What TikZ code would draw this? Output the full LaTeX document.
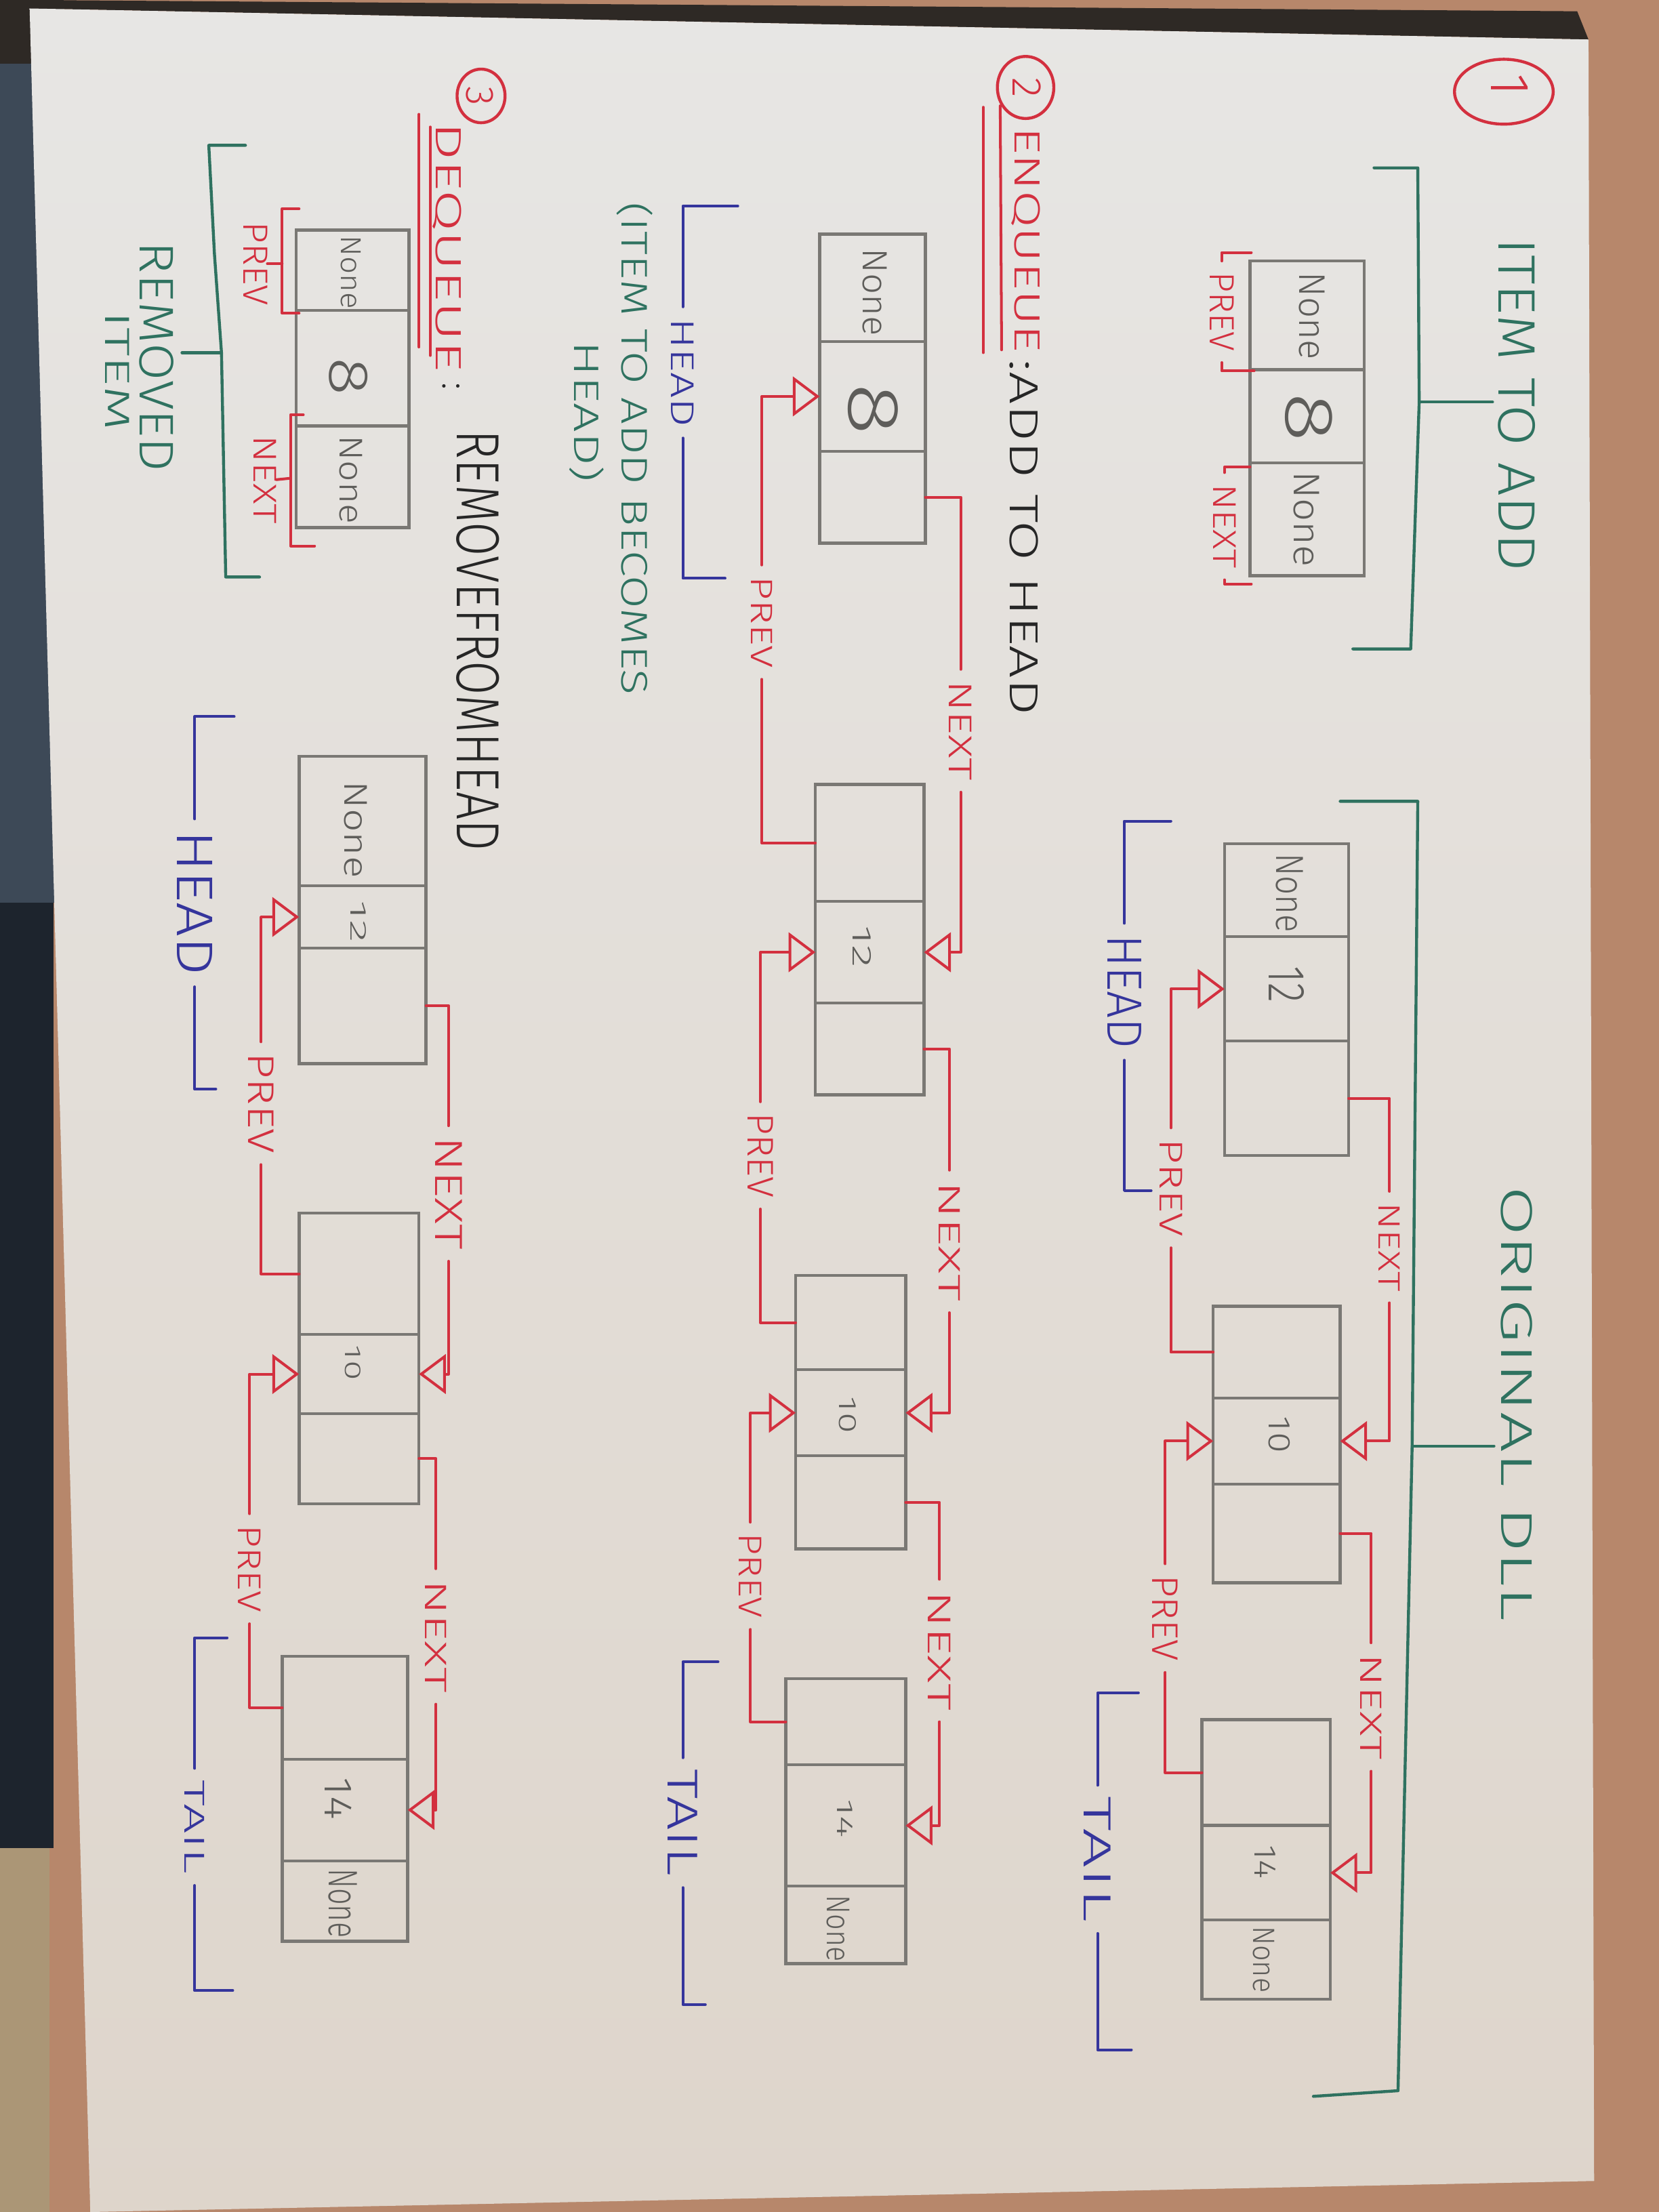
\documentclass[tikz,border=0pt]{standalone}
\usepackage{fontspec}
\IfFontExistsTF{Fira Sans Light}{\setmainfont{Fira Sans Light}}{\setmainfont{Fira Sans}}
\usepackage{graphicx}
\usetikzlibrary{arrows.meta,fit,shapes.geometric}
\newlength{\pxu}\setlength{\pxu}{0.02cm}
% handwritten text squeezed to a given length and cap height
\newcommand{\hw}[3]{\resizebox{#1\pxu}{#2\pxu}{#3}}
% a list node of three cells: prev, data, next
\newcommand{\llnode}[7]{%
  \node[cell, fit={(#2,#4) (#3,#5)}] (#1-p) {};
  \node[cell, fit={(#2,#5) (#3,#6)}] (#1-d) {};
  \node[cell, fit={(#2,#6) (#3,#7)}] (#1-n) {};
}
\definecolor{paperhi}{HTML}{E7E6E4}
\definecolor{paperlo}{HTML}{DED5CB}
\definecolor{desk}{HTML}{B7876B}
\definecolor{jeans}{HTML}{3D4957}
\definecolor{navy}{HTML}{1D242D}
\definecolor{wood}{HTML}{AB9676}
\definecolor{shadow}{HTML}{2E2925}
\definecolor{pencil}{HTML}{7A7874}
\definecolor{penciltx}{HTML}{5E5D5A}
\definecolor{inkred}{HTML}{D3303F}
\definecolor{inkgreen}{HTML}{2F7260}
\definecolor{inkblue}{HTML}{35359C}
\definecolor{inkblack}{HTML}{262626}
\begin{document}
\begin{tikzpicture}[x=0.02cm, y=-0.02cm,
  cell/.style={draw=pencil, line width=1.2pt, inner sep=0pt, outer sep=0pt},
  gtxt/.style={rotate=-90, inner sep=0pt, outer sep=0pt, text=penciltx},
  lbl/.style={rotate=-90, inner ysep=0pt, inner xsep=8\pxu, outer sep=0pt},
  redln/.style={draw=inkred, line width=1.1pt, line join=round, line cap=round},
  blueln/.style={draw=inkblue, line width=1.1pt, line join=round, line cap=round},
  greenln/.style={draw=inkgreen, line width=1.2pt, line join=round, line cap=round},
  ptr/.style={-{Triangle[open, length=0.38cm, width=0.56cm]}},
  ring/.style={draw=inkred, line width=1.2pt, ellipse, inner sep=0pt},
]
\useasboundingbox (0,0) rectangle (1176,1568);

% ---- desk, clothes and the sheet of paper ----
\fill[desk] (0,0) rectangle (1176,1568);
\fill[jeans] (0,40) rectangle (45,640);
\fill[shadow] (0,0) rectangle (45,45);
\fill[navy] (0,640) rectangle (38,1310);
\fill[wood] (0,1310) rectangle (35,1568);
\fill[shadow] (21,0) -- (1118,8) -- (1126,28) -- (21,6) -- cycle;
\shade[top color=paperhi, bottom color=paperlo]
  (21,6) -- (1126,28) -- (1130,1546) -- (64,1568) -- cycle;

% ================= 1: item to add =================
\node[ring, minimum width=70\pxu, minimum height=46\pxu] (c1) at (1066,65) {};
\node[gtxt, text=inkred] (c1t) at (1070,60) {\resizebox{!}{26\pxu}{1}};

\node[gtxt, text=inkgreen] (s1i-title) at (1075,287) {\hw{236}{26}{ITEM TO ADD}};
\coordinate (g1a) at (974,119); \coordinate (g1b) at (1005,119);
\coordinate (g1m) at (1006,285); \coordinate (g1c) at (1000,460);
\coordinate (g1d) at (959,460);
\draw[greenln] (g1a) -- (g1b) -- (g1m) -- (g1c) -- (g1d);
\draw[greenln] (g1m) -- (1058,285);

\llnode{s1i}{886}{967}{185}{262}{328}{408}
\node[gtxt] (s1i-t1) at (930,224) {\hw{62}{18}{None}};
\node[gtxt] (s1i-t2) at (928,296) {\hw{35}{33}{8}};
\node[gtxt] (s1i-t3) at (926,368) {\hw{68}{18}{None}};

\node[lbl, text=inkred] (s1i-pl) at (866,221) {\hw{56}{17}{PREV}};
\coordinate (s1i-pa) at (887,179); \coordinate (s1i-pb) at (889,263);
\draw[redln] (s1i-pa) -| (s1i-pl.west);
\draw[redln] (s1i-pl.east) |- (s1i-pb);
\node[lbl, text=inkred] (s1i-nl) at (868,373) {\hw{60}{16}{NEXT}};
\coordinate (s1i-na) at (886,331); \coordinate (s1i-nb) at (887,414);
\draw[redln] (s1i-na) -| (s1i-nl.west);
\draw[redln] (s1i-nl.east) |- (s1i-nb);

% ================= 1: original list =================
\node[gtxt, text=inkgreen] (s1-title) at (1075,995) {\hw{308}{22}{ORIGINAL DLL}};
\coordinate (g2a) at (950,568); \coordinate (g2b) at (1005,568);
\coordinate (g2m) at (1001,1025); \coordinate (g2c) at (991,1482);
\coordinate (g2d) at (931,1486);
\draw[greenln] (g2a) -- (g2b) -- (g2m) -- (g2c) -- (g2d);
\draw[greenln] (g2m) -- (1059,1025);

\llnode{s1a}{868}{956}{598}{664}{738}{819}
\llnode{s1b}{860}{950}{926}{991}{1052}{1122}
\llnode{s1c}{852}{943}{1219}{1294}{1361}{1417}
\node[gtxt] (s1a-t1) at (914,633) {\hw{56}{19}{None}};
\node[gtxt] (s1a-t2) at (912,698) {\hw{26}{25}{12}};
\node[gtxt] (s1b-t2) at (907,1017) {\hw{26}{15}{10}};
\node[gtxt] (s1c-t2) at (897,1320) {\hw{24}{15}{14}};
\node[gtxt] (s1c-t3) at (896,1389) {\hw{47}{15}{None}};

\node[lbl, text=inkred] (s1-nx1) at (985,884) {\hw{63}{15}{NEXT}};
\draw[redln] (s1a-n.east) -| (s1-nx1.west);
\draw[redln, ptr] (s1-nx1.east) |- (s1b-d.east);
\node[lbl, text=inkred] (s1-pv1) at (830,842) {\hw{69}{16}{PREV}};
\draw[redln] (s1b-p.west) -| (s1-pv1.east);
\draw[redln, ptr] (s1-pv1.west) |- (s1a-d.west);
\node[lbl, text=inkred] (s1-nx2) at (972,1210) {\hw{75}{15}{NEXT}};
\draw[redln] (s1b-n.east) -| (s1-nx2.west);
\draw[redln, ptr] (s1-nx2.east) |- (s1c-d.east);
\node[lbl, text=inkred] (s1-pv2) at (826,1147) {\hw{61}{18}{PREV}};
\draw[redln] (s1c-p.west) -| (s1-pv2.east);
\draw[redln, ptr] (s1-pv2.west) |- (s1b-d.west);

\node[lbl, text=inkblue] (s1-head) at (797,703) {\hw{81}{24}{HEAD}};
\coordinate (s1-ha) at (830,582); \coordinate (s1-hb) at (816,844);
\draw[blueln] (s1-ha) -| (s1-head.west);
\draw[blueln] (s1-head.east) |- (s1-hb);
\node[lbl, text=inkblue] (s1-tail) at (778,1318) {\hw{89}{19}{TAIL}};
\coordinate (s1-ta) at (807,1200); \coordinate (s1-tb) at (802,1453);
\draw[blueln] (s1-ta) -| (s1-tail.west);
\draw[blueln] (s1-tail.east) |- (s1-tb);

% ================= 2: enqueue =================
\node[ring, minimum width=40\pxu, minimum height=44\pxu] (c2) at (727,62) {};
\node[gtxt, text=inkred] (c2t) at (728,62) {\resizebox{!}{20\pxu}{2}};
\node[gtxt, text=inkred] (s2-title) at (727,170) {\hw{160}{18}{ENQUEUE}};
\node[gtxt, text=inkblack] (s2-sub) at (726,381) {\hw{252}{20}{:ADD TO HEAD}};
\coordinate (u2a) at (697,76); \coordinate (u2b) at (697,250);
\coordinate (u2c) at (709,75); \coordinate (u2d) at (710,248);
\draw[redln] (u2a) -- (u2b);
\draw[redln] (u2c) -- (u2d);

\llnode{s2a}{581}{656}{166}{242}{320}{385}
\llnode{s2b}{578}{655}{556}{639}{711}{776}
\llnode{s2c}{564}{642}{904}{971}{1032}{1098}
\llnode{s2d}{557}{642}{1190}{1251}{1337}{1392}
\node[gtxt] (s2a-t1) at (620,207) {\hw{62}{17}{None}};
\node[gtxt] (s2a-t2) at (619,290) {\hw{37}{35}{8}};
\node[gtxt] (s2b-t2) at (611,671) {\hw{30}{13}{12}};
\node[gtxt] (s2c-t2) at (601,1003) {\hw{26}{12}{10}};
\node[gtxt] (s2d-t2) at (599,1289) {\hw{28}{11}{14}};
\node[gtxt] (s2d-t3) at (594,1367) {\hw{47}{16}{None}};

\node[lbl, text=inkred] (s2-nx1) at (681,518) {\hw{71}{16}{NEXT}};
\draw[redln] (s2a-n.east) -| (s2-nx1.west);
\draw[redln, ptr] (s2-nx1.east) |- (s2b-d.east);
\node[lbl, text=inkred] (s2-pv1) at (540,441) {\hw{65}{15}{PREV}};
\draw[redln] (s2b-p.west) -| (s2-pv1.east);
\draw[redln, ptr] (s2-pv1.west) |- (s2a-d.west);
\node[lbl, text=inkred] (s2-nx2) at (673,880) {\hw{85}{15}{NEXT}};
\draw[redln] (s2b-n.east) -| (s2-nx2.west);
\draw[redln, ptr] (s2-nx2.east) |- (s2c-d.east);
\node[lbl, text=inkred] (s2-pv2) at (539,819) {\hw{60}{18}{PREV}};
\draw[redln] (s2c-p.west) -| (s2-pv2.east);
\draw[redln, ptr] (s2-pv2.west) |- (s2b-d.west);
\node[lbl, text=inkred] (s2-nx3) at (666,1170) {\hw{85}{16}{NEXT}};
\draw[redln] (s2c-n.east) -| (s2-nx3.west);
\draw[redln, ptr] (s2-nx3.east) |- (s2d-d.east);
\node[lbl, text=inkred] (s2-pv3) at (532,1117) {\hw{60}{16}{PREV}};
\draw[redln] (s2d-p.west) -| (s2-pv3.east);
\draw[redln, ptr] (s2-pv3.west) |- (s2c-d.west);

\node[lbl, text=inkblue] (s2-head) at (484,264) {\hw{77}{16}{HEAD}};
\coordinate (s2-ha) at (523,146); \coordinate (s2-hb) at (514,410);
\draw[blueln] (s2-ha) -| (s2-head.west);
\draw[blueln] (s2-head.east) |- (s2-hb);
\node[lbl, text=inkblue] (s2-tail) at (484,1292) {\hw{76}{21}{TAIL}};
\coordinate (s2-ta) at (509,1178); \coordinate (s2-tb) at (500,1421);
\draw[blueln] (s2-ta) -| (s2-tail.west);
\draw[blueln] (s2-tail.east) |- (s2-tb);

\node[gtxt, text=inkgreen] (s2-note1) at (450,318) {\hw{349}{22}{(ITEM TO ADD BECOMES}};
\node[gtxt, text=inkgreen] (s2-note2) at (416,292) {\hw{100}{21}{HEAD)}};

% ================= 3: dequeue =================
\node[ring, minimum width=34\pxu, minimum height=38\pxu] (c3) at (341,68) {};
\node[gtxt, text=inkred] (c3t) at (340,68) {\resizebox{!}{19\pxu}{3}};
\node[gtxt, text=inkred] (s3-title) at (317,175) {\hw{177}{18}{DEQUEUE}};
\node[gtxt, text=inkblack] (s3-colon) at (320,274) {\resizebox{!}{12\pxu}{:}};
\node[gtxt, text=inkblack] (s3-sub) at (339,454) {\hw{298}{30}{REMOVEFROMHEAD}};
\coordinate (u3a) at (297,81); \coordinate (u3b) at (297,246);
\coordinate (u3c) at (305,90); \coordinate (u3d) at (305,252);
\draw[redln] (u3a) -- (u3b);
\draw[redln] (u3c) -- (u3d);

\llnode{s3r}{210}{290}{163}{220}{302}{374}
\node[gtxt] (s3r-t1) at (249,193) {\hw{52}{14}{None}};
\node[gtxt] (s3r-t2) at (247,267) {\hw{27}{27}{8}};
\node[gtxt] (s3r-t3) at (249,340) {\hw{63}{16}{None}};

\node[gtxt, text=inkred] (s3r-pl) at (181,187) {\hw{59}{17}{PREV}};
\coordinate (s3r-p1) at (212,148); \coordinate (s3r-p2) at (200,148);
\coordinate (s3r-p3) at (200,222); \coordinate (s3r-p4) at (212,222);
\coordinate (s3r-pm) at (200,187);
\draw[redln] (s3r-p1) -- (s3r-p2) -- (s3r-p3) -- (s3r-p4);
\draw[redln] (s3r-pm) -- (s3r-pl.north);
\node[gtxt, text=inkred] (s3r-nl) at (188,340) {\hw{63}{16}{NEXT}};
\coordinate (s3r-n1) at (215,294); \coordinate (s3r-n2) at (206,294);
\coordinate (s3r-n3) at (206,387); \coordinate (s3r-n4) at (223,387);
\coordinate (s3r-nm) at (206,339);
\draw[redln] (s3r-n1) -- (s3r-n2) -- (s3r-n3) -- (s3r-n4);
\draw[redln] (s3r-nm) -- (s3r-nl.north);

\coordinate (g3a) at (174,103); \coordinate (g3b) at (148,103);
\coordinate (g3c) at (152,180); \coordinate (g3m) at (157,250);
\coordinate (g3d) at (160,409); \coordinate (g3e) at (184,409);
\draw[greenln] (g3a) -- (g3b) -- (g3c) -- (g3m) -- (g3d) -- (g3e);
\draw[greenln] (g3m) -- (129,250);
\node[gtxt, text=inkgreen] (s3-rem1) at (111,253) {\hw{163}{24}{REMOVED}};
\node[gtxt, text=inkgreen] (s3-rem2) at (83,263) {\hw{85}{17}{ITEM}};

\llnode{s3a}{212}{302}{536}{628}{672}{754}
\llnode{s3b}{212}{297}{860}{946}{1002}{1066}
\llnode{s3c}{200}{289}{1174}{1247}{1319}{1376}
\node[gtxt] (s3a-t1) at (252,588) {\hw{69}{16}{None}};
\node[gtxt] (s3a-t2) at (254,653) {\hw{30}{11}{12}};
\node[gtxt] (s3b-t2) at (250,966) {\hw{25}{11}{10}};
\node[gtxt] (s3c-t2) at (240,1275) {\hw{30}{19}{14}};
\node[gtxt] (s3c-t3) at (243,1349) {\hw{49}{20}{None}};

\node[lbl, text=inkred] (s3-nx1) at (318,846) {\hw{80}{19}{NEXT}};
\draw[redln] (s3a-n.east) -| (s3-nx1.west);
\draw[redln, ptr] (s3-nx1.east) |- (s3b-d.east);
\node[lbl, text=inkred] (s3-pv1) at (185,782) {\hw{71}{18}{PREV}};
\draw[redln] (s3b-p.west) -| (s3-pv1.east);
\draw[redln, ptr] (s3-pv1.west) |- (s3a-d.west);
\node[lbl, text=inkred] (s3-nx2) at (309,1160) {\hw{80}{15}{NEXT}};
\draw[redln] (s3b-n.east) -| (s3-nx2.west);
\draw[redln, ptr] (s3-nx2.east) |- (s3c-d.east);
\node[lbl, text=inkred] (s3-pv2) at (177,1112) {\hw{62}{16}{PREV}};
\draw[redln] (s3c-p.west) -| (s3-pv2.east);
\draw[redln, ptr] (s3-pv2.west) |- (s3b-d.west);

\node[lbl, text=inkblue] (s3-head) at (138,640) {\hw{103}{25}{HEAD}};
\coordinate (s3-ha) at (166,508); \coordinate (s3-hb) at (153,772);
\draw[blueln] (s3-ha) -| (s3-head.west);
\draw[blueln] (s3-head.east) |- (s3-hb);
\node[lbl, text=inkblue] (s3-tail) at (138,1295) {\hw{67}{14}{TAIL}};
\coordinate (s3-ta) at (161,1161); \coordinate (s3-tb) at (165,1411);
\draw[blueln] (s3-ta) -| (s3-tail.west);
\draw[blueln] (s3-tail.east) |- (s3-tb);
\end{tikzpicture}
\end{document}
